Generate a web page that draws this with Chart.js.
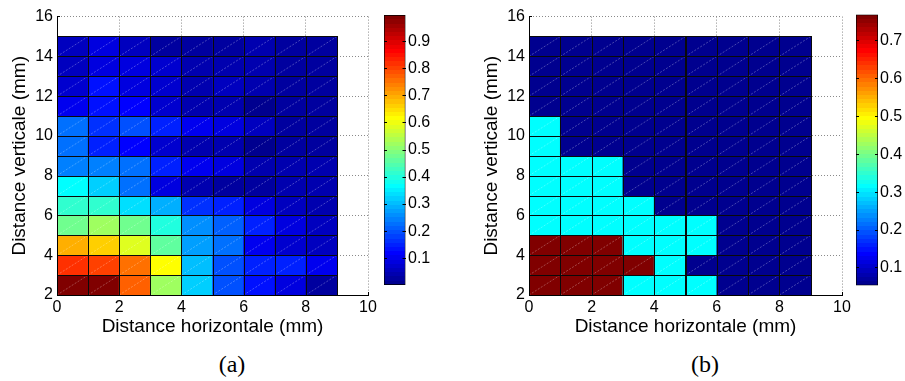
<!DOCTYPE html>
<html>
<head>
<meta charset="utf-8">
<script src="https://cdn.jsdelivr.net/npm/chart.js@4.4.1/dist/chart.umd.min.js"></script>
<style>
html, body { margin: 0; padding: 0; background: #fff; }
#page { position: relative; width: 905px; height: 381px; overflow: hidden; }
canvas { position: absolute; top: 0; }
.cap { position: absolute; font-family: 'Liberation Serif', 'Times New Roman', serif; font-size: 24px; transform: translate(-50%, -50%); color: #000; }
</style>
</head>
<body>
<div id="page">
    <canvas id="heatA" width="390" height="340" style="left:0px"></canvas>
    <canvas id="barA" width="72" height="300" style="left:380px"></canvas>
    <canvas id="heatB" width="390" height="340" style="left:472px"></canvas>
    <canvas id="barB" width="53" height="300" style="left:852px"></canvas>
    <div class="cap" style="left:232px;top:364px">(a)</div>
    <div class="cap" style="left:705px;top:364px">(b)</div>
</div>
<script>
// cell lower-left corners (mm)
const xEdges = [0, 1, 2, 3, 4, 5, 6, 7, 8]
const yEdges = [2, 3, 4, 5, 6, 7, 8, 9, 10, 11, 12, 13, 14]

// rows from y=2 (bottom) to y=14 (top)
const valuesA = [
    [1.00, 0.99, 0.77, 0.52, 0.315, 0.20, 0.135, 0.09, 0.025],
    [0.825, 0.81, 0.76, 0.61, 0.305, 0.19, 0.145, 0.145, 0.11],
    [0.70, 0.66, 0.58, 0.46, 0.28, 0.22, 0.11, 0.07, 0.06],
    [0.47, 0.53, 0.48, 0.405, 0.26, 0.21, 0.145, 0.09, 0.05],
    [0.415, 0.415, 0.34, 0.295, 0.165, 0.155, 0.09, 0.05, 0.04],
    [0.36, 0.325, 0.23, 0.08, 0.035, 0.02, 0.03, 0.035, 0.045],
    [0.24, 0.245, 0.23, 0.155, 0.10, 0.09, 0.035, 0.04, 0.035],
    [0.225, 0.155, 0.125, 0.065, 0.04, 0.035, 0.01, 0.02, 0.025],
    [0.22, 0.165, 0.20, 0.145, 0.11, 0.09, 0.05, 0.03, 0.025],
    [0.10, 0.135, 0.12, 0.065, 0.04, 0.04, 0.015, 0.03, 0.025],
    [0.075, 0.13, 0.085, 0.075, 0.045, 0.05, 0.045, 0.03, 0.025],
    [0.06, 0.09, 0.08, 0.065, 0.04, 0.035, 0.035, 0.02, 0.025],
    [0.06, 0.08, 0.06, 0.025, 0.025, 0.02, 0.04, 0.025, 0.025]
]
const valuesB = [
    [0.768, 0.768, 0.768, 0.32, 0.32, 0.32, 0.054, 0.054, 0.054],
    [0.768, 0.768, 0.768, 0.768, 0.32, 0.054, 0.054, 0.054, 0.054],
    [0.768, 0.768, 0.768, 0.32, 0.32, 0.32, 0.054, 0.054, 0.054],
    [0.32, 0.32, 0.32, 0.32, 0.32, 0.32, 0.054, 0.054, 0.054],
    [0.32, 0.32, 0.32, 0.32, 0.054, 0.054, 0.054, 0.054, 0.054],
    [0.32, 0.32, 0.32, 0.054, 0.054, 0.054, 0.054, 0.054, 0.054],
    [0.32, 0.32, 0.32, 0.054, 0.054, 0.054, 0.054, 0.054, 0.054],
    [0.32, 0.054, 0.054, 0.054, 0.054, 0.054, 0.054, 0.054, 0.054],
    [0.32, 0.054, 0.054, 0.054, 0.054, 0.054, 0.054, 0.054, 0.054],
    [0.054, 0.054, 0.054, 0.054, 0.054, 0.054, 0.054, 0.054, 0.054],
    [0.054, 0.054, 0.054, 0.054, 0.054, 0.054, 0.054, 0.054, 0.054],
    [0.054, 0.054, 0.054, 0.054, 0.054, 0.054, 0.054, 0.054, 0.054],
    [0.054, 0.054, 0.054, 0.054, 0.054, 0.054, 0.054, 0.054, 0.054]
]

const rangeA = [0.001, 0.999]
const rangeB = [0.054, 0.768]
const colorTicksA = [0.1, 0.2, 0.3, 0.4, 0.5, 0.6, 0.7, 0.8, 0.9]
const colorTicksB = [0.1, 0.2, 0.3, 0.4, 0.5, 0.6, 0.7]

const xTitle = 'Distance horizontale (mm)'
const yTitle = 'Distance verticale (mm)'

Chart.defaults.font.family = "'Liberation Sans', Arial, Helvetica, sans-serif"
Chart.defaults.color = '#000'

const LEVELS = 64

// matlab jet, sampled the same way as jet(64)
function jet(t) {
    const c = v => Math.round(255 * Math.max(0, Math.min(1, v)))
    return `rgb(${c(Math.min(4 * t - 1.5, -4 * t + 4.5))},${c(Math.min(4 * t - 0.5, -4 * t + 3.5))},${c(Math.min(4 * t + 0.5, -4 * t + 2.5))})`
}
const levelColor = i => jet((i + 1) / LEVELS)
const levelOf = (v, range) => Math.max(0, Math.min(LEVELS - 1, Math.floor((v - range[0]) / (range[1] - range[0]) * LEVELS)))

// patch edges snapped to whole pixels + the faint diagonal of the matlab export
const patchEdges = {
    id: 'patchEdges',
    afterDatasetsDraw(chart) {
        const ctx = chart.ctx
        const boxes = chart.getDatasetMeta(0).data.map(el => {
            const { x, y, base, width } = el.getProps(['x', 'y', 'base', 'width'], true)
            return { l: x - width / 2, r: x + width / 2, t: Math.min(y, base), b: Math.max(y, base) }
        })
        ctx.save()
        ctx.strokeStyle = 'rgba(255,255,255,0.4)'
        ctx.lineWidth = 0.7
        ctx.setLineDash([2, 1.5])
        boxes.forEach(b => {
            ctx.beginPath()
            ctx.moveTo(b.l, b.b)
            ctx.lineTo(b.r, b.t)
            ctx.stroke()
        })
        ctx.setLineDash([])
        ctx.strokeStyle = '#0a0a0a'
        ctx.lineWidth = 1
        boxes.forEach(b => {
            const l = Math.round(b.l), r = Math.round(b.r), t = Math.round(b.t), bt = Math.round(b.b)
            ctx.strokeRect(l + 0.5, t + 0.5, r - l, bt - t)
        })
        ctx.restore()
    }
}

function makeHeatmap(id, values, range, rightPad) {
    const cells = []
    const colors = []
    yEdges.forEach((y, r) => xEdges.forEach((x, c) => {
        cells.push({ x: x + 0.5, y: [y, y + 1] })
        colors.push(levelColor(levelOf(values[r][c], range)))
    }))
    const grid = { color: '#8a8a8a', lineWidth: 1, offset: false, drawTicks: true, tickLength: -3, tickColor: '#000' }
    const border = { display: true, color: '#000', width: 1, dash: [1, 2], z: 1 }
    return new Chart(document.getElementById(id), {
        type: 'bar',
        data: {
            datasets: [{
                data: cells,
                backgroundColor: colors,
                borderWidth: 0,
                barPercentage: 1,
                categoryPercentage: 1
            }]
        },
        options: {
            responsive: false,
            animation: false,
            layout: { padding: { top: 10, right: rightPad, left: 0, bottom: 0 } },
            plugins: { legend: { display: false }, tooltip: { enabled: false } },
            scales: {
                x: {
                    type: 'linear', min: 0, max: 10, offset: false,
                    ticks: { stepSize: 2, padding: 6, maxRotation: 0, font: { size: 16 } },
                    grid, border,
                    title: { display: true, text: xTitle, font: { size: 19 }, padding: { top: 0, bottom: 2 } },
                    afterFit: s => { s.height = 45 }
                },
                y: {
                    type: 'linear', min: 2, max: 16,
                    ticks: { stepSize: 2, padding: 7, font: { size: 16 } },
                    grid, border,
                    title: { display: true, text: yTitle, font: { size: 19 }, padding: { top: 8.6, bottom: 0 } },
                    afterFit: s => { s.width = 57 }
                }
            }
        },
        plugins: [patchEdges]
    })
}

function makeColorbar(id, range, tickValues, padLeft, axisWidth, labelPad) {
    const [lo, hi] = range
    const setTicks = s => { s.ticks = tickValues.map(v => ({ value: v })) }
    const tickGrid = { drawOnChartArea: false, drawTicks: true, tickLength: -3, tickColor: '#000', tickWidth: 1, z: 1 }
    return new Chart(document.getElementById(id), {
        type: 'bar',
        data: {
            labels: [''],
            datasets: [{
                data: [[lo, hi]],
                backgroundColor: ctx => {
                    const area = ctx.chart.chartArea
                    if (!area) return null
                    const g = ctx.chart.ctx.createLinearGradient(0, area.bottom, 0, area.top)
                    for (let i = 0; i < LEVELS; i++) {
                        g.addColorStop(i / LEVELS, levelColor(i))
                        g.addColorStop((i + 1) / LEVELS, levelColor(i))
                    }
                    return g
                },
                borderColor: '#000',
                borderWidth: 1,
                borderSkipped: false,
                barPercentage: 1,
                categoryPercentage: 1
            }]
        },
        options: {
            responsive: false,
            animation: false,
            layout: { padding: { top: 10, bottom: 5, left: padLeft, right: 0 } },
            plugins: { legend: { display: false }, tooltip: { enabled: false } },
            scales: {
                x: { display: false },
                y: {
                    type: 'linear', position: 'right', min: lo, max: hi,
                    afterBuildTicks: setTicks,
                    ticks: { padding: labelPad, font: { size: 16 }, callback: v => String(v) },
                    grid: tickGrid,
                    border: { display: false },
                    afterFit: s => { s.width = axisWidth }
                },
                y2: {
                    type: 'linear', position: 'left', min: lo, max: hi,
                    afterBuildTicks: setTicks,
                    ticks: { display: false },
                    grid: tickGrid,
                    border: { display: false },
                    afterFit: s => { s.width = 0 }
                }
            }
        }
    })
}

makeHeatmap('heatA', valuesA, rangeA, 22)
makeHeatmap('heatB', valuesB, rangeB, 20)
makeColorbar('barA', rangeA, colorTicksA, 4, 46.5, 5.5)
makeColorbar('barB', rangeB, colorTicksB, 4, 27, 5)
</script>
</body>
</html>
